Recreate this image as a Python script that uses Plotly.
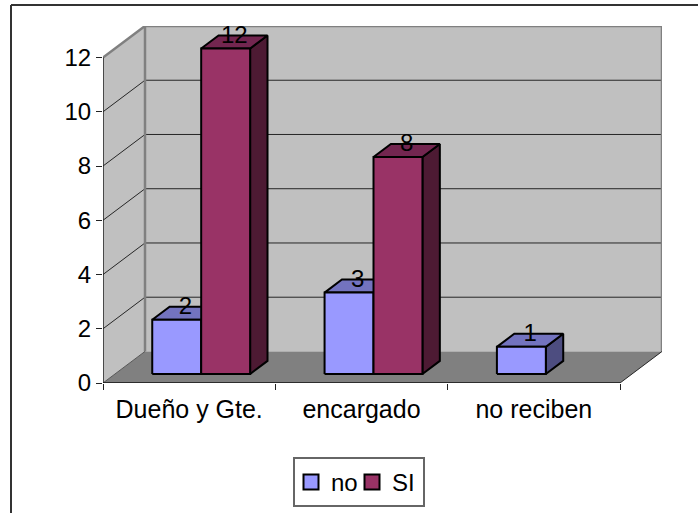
import plotly.graph_objects as go

categories = ["Dueño y Gte.", "encargado", "no reciben"]
series_no = [2, 3, 1]
series_si = [12, 8, None]
value_ticks = [0, 2, 4, 6, 8, 10, 12]

W, H = 698, 513
PX_L, PX_R, PX_T, PX_B = 103, 662, 26, 383   # plot box in pixels
CAT_PX = 172.33
UNIT_PX = 27.08
DX = 42 / CAT_PX       # full floor depth, in category units
DY = 31.5 / UNIT_PX    # full floor depth, in value units
N = len(categories)
YMAX = max(value_ticks)

BAR_W = 0.284
BAR_GAP = (1 - 2 * BAR_W) / 2
D0, D1 = 0.286, 0.70   # bar depth extent

FONT = "Liberation Sans, Arial, sans-serif"
FS = 24
fig = go.Figure()


def P(x, v, d=0.0):
    return x + d * DX, v + d * DY


def poly(points, fill, line="black", width=2):
    xs, ys = zip(*(P(*p) for p in points + points[:1]))
    fig.add_trace(go.Scatter(x=list(xs), y=list(ys), mode="lines", fill="toself",
                             fillcolor=fill, line=dict(color=line, width=width),
                             hoverinfo="skip", showlegend=False, cliponaxis=False))


def path(points, color, width=1):
    xs, ys = zip(*(P(*p) for p in points))
    fig.add_trace(go.Scatter(x=list(xs), y=list(ys), mode="lines",
                             line=dict(color=color, width=width),
                             hoverinfo="skip", showlegend=False, cliponaxis=False))


WALL = "#C0C0C0"
EDGE = "#808080"
# walls and floor
poly([(0, 0, 0), (0, 0, 1), (0, YMAX, 1), (0, YMAX, 0)], WALL, WALL, 0)
poly([(0, 0, 1), (N, 0, 1), (N, YMAX, 1), (0, YMAX, 1)], WALL, WALL, 0)
poly([(0, 0, 0), (N, 0, 0), (N, 0, 1), (0, 0, 1)], EDGE, EDGE, 0)
# gridlines
for v in value_ticks[1:-1]:
    path([(0, v, 0), (0, v, 1), (N, v, 1)], "#262626", 1)
# wall edges
path([(0, YMAX, 0), (0, YMAX, 1), (N, YMAX, 1), (N, 0, 1)], EDGE, 2.5)
path([(0, YMAX, 1), (0, 0, 1)], EDGE, 2.5)
path([(0, 0, 0), (0, 0, 1)], "#555555", 1)
path([(N, 0, 0), (N, 0, 1)], "#262626", 1)


def bar(x0, v, front, top, side):
    x1 = x0 + BAR_W
    poly([(x1, 0, D0), (x1, 0, D1), (x1, v, D1), (x1, v, D0)], side)
    poly([(x0, v, D0), (x1, v, D0), (x1, v, D1), (x0, v, D1)], top)
    poly([(x0, 0, D0), (x1, 0, D0), (x1, v, D0), (x0, v, D0)], front)


COL_NO = ("#9999FF", "#7373BF", "#4D4D80")
COL_SI = ("#993366", "#732650", "#4D1A33")
label_x, label_y, label_text = [], [], []
for i in range(N):
    for j, (vals, cols) in enumerate(((series_no, COL_NO), (series_si, COL_SI))):
        v = vals[i]
        if v is None:
            continue
        x0 = i + BAR_GAP + j * BAR_W
        bar(x0, v, *cols)
        lx, _ = P(x0 + BAR_W / 2, v, (D0 + D1) / 2)
        _, ly = P(x0 + BAR_W / 2, v, D0)
        label_x.append(lx)
        label_y.append(ly)
        label_text.append(str(v))

# axis lines
path([(0, 0, 0), (0, YMAX, 0)], "#222222", 1.5)
path([(0, 0, 0), (N, 0, 0)], "#111111", 1.5)

fig.add_trace(go.Scatter(x=label_x, y=label_y, text=label_text, mode="text",
                         textposition="top center",
                         textfont=dict(family=FONT, size=FS, color="black"),
                         hoverinfo="skip", showlegend=False, cliponaxis=False))

# legend entries
fig.add_trace(go.Scatter(x=[None], y=[None], mode="markers", name="no",
                         marker=dict(symbol="square", size=15, color=COL_NO[0],
                                     line=dict(color="black", width=2))))
fig.add_trace(go.Scatter(x=[None], y=[None], mode="markers", name="SI",
                         marker=dict(symbol="square", size=15, color=COL_SI[0],
                                     line=dict(color="black", width=2))))

fig.update_layout(
    width=W, height=H, autosize=False,
    margin=dict(l=PX_L, r=W - PX_R, t=PX_T, b=H - PX_B, pad=0),
    paper_bgcolor="white", plot_bgcolor="white",
    font=dict(family=FONT, size=FS, color="black"),
    xaxis=dict(range=[0, N + DX], tickmode="array",
               tickvals=[i + 0.5 for i in range(N)], ticktext=categories,
               ticks="", ticklen=0, showgrid=False, zeroline=False, showline=False,
               tickfont=dict(size=25), ticklabelstandoff=9,
               minor=dict(tickmode="array", tickvals=list(range(N + 1)), ticks="outside",
                          ticklen=6, tickwidth=1, tickcolor="#222222", showgrid=False)),
    yaxis=dict(range=[0, YMAX + DY], tickmode="array", tickvals=value_ticks,
               ticks="outside", ticklen=6, tickwidth=1, tickcolor="#222222",
               showgrid=False, zeroline=False, showline=False,
               tickfont=dict(size=FS)),
    showlegend=True,
    legend=dict(orientation="h", xref="container", yref="container",
                x=291 / W, xanchor="left",
                y=1 - 460 / H, yanchor="top",
                bgcolor="rgba(0,0,0,0)", borderwidth=0,
                entrywidth=16, entrywidthmode="pixels",
                font=dict(family=FONT, size=FS), itemwidth=30),
    shapes=[
        dict(type="line", xref="paper", yref="paper",
             x0=-(PX_L - 11) / (PX_R - PX_L), x1=-(PX_L - 11) / (PX_R - PX_L),
             y0=(PX_B - 5) / (PX_B - PX_T), y1=-(H - PX_B) / (PX_B - PX_T),
             line=dict(color="#333333", width=2)),
        dict(type="line", xref="paper", yref="paper",
             x0=-(PX_L - 11) / (PX_R - PX_L), x1=(W - PX_L) / (PX_R - PX_L),
             y0=(PX_B - 5) / (PX_B - PX_T), y1=(PX_B - 5) / (PX_B - PX_T),
             line=dict(color="#333333", width=2)),
        dict(type="rect", xref="paper", yref="paper",
             x0=(294 - PX_L) / (PX_R - PX_L), x1=(424 - PX_L) / (PX_R - PX_L),
             y0=(PX_B - 458) / (PX_B - PX_T), y1=(PX_B - 506) / (PX_B - PX_T),
             fillcolor="white", line=dict(color="#666666", width=2)),
    ],
)
fig.write_html("out.html", config={"displayModeBar": False},
               post_script="document.body.style.margin='0';document.body.style.overflow='hidden';")
